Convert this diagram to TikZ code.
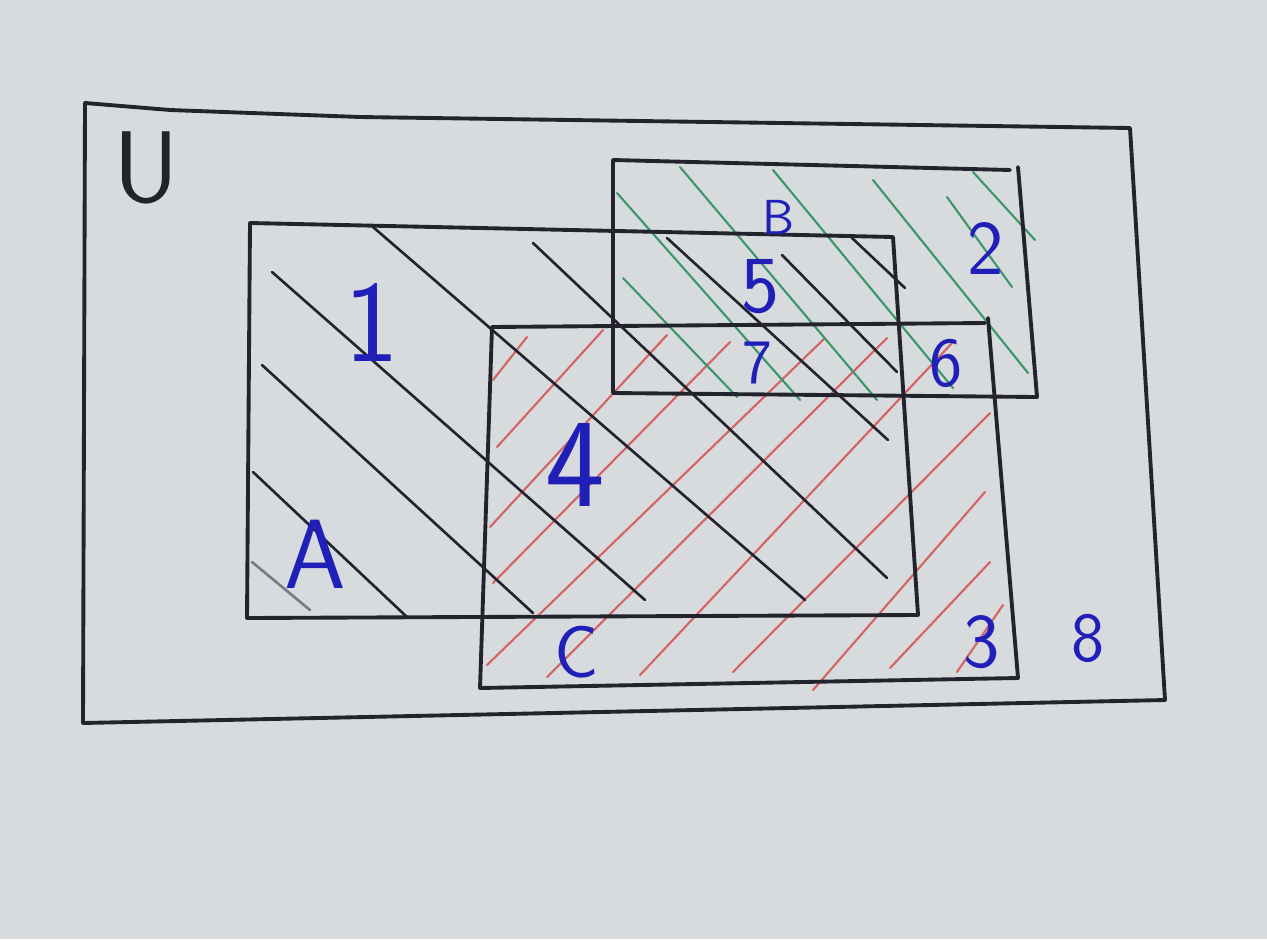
\documentclass[tikz,border=0pt]{standalone}
\usepackage{xcolor}
\usepackage{tikz}

\definecolor{paper}{RGB}{216,219,221}
\definecolor{ink}{RGB}{35,35,45}
\definecolor{pen}{RGB}{32,32,185}
\definecolor{redpen}{RGB}{212,100,100}
\definecolor{greenpen}{RGB}{60,150,108}

\begin{document}
\begin{tikzpicture}[
    x=0.01cm, y=-0.01cm,
    frame/.style={draw=ink, line width=1.1pt, line join=round, line cap=round},
    hatch/.style={draw=ink, line width=0.75pt, line cap=round},
    redhatch/.style={draw=redpen, line width=0.6pt, line cap=round},
    greenhatch/.style={draw=greenpen, line width=0.6pt, line cap=round},
    num/.style={text=pen, inner sep=0pt, font=\sffamily\fontsize{#1}{#1}\selectfont},
]
\fill[paper] (0,0) rectangle (1267,939);
\useasboundingbox (0,0) rectangle (1267,939);

% hatching
\foreach \xa/\ya/\xb/\yb in {493/380/527/337, 497/447/603/330, 490/527/667/335,
    493/583/730/342, 487/665/825/338, 547/677/887/338, 640/675/953/342,
    733/672/990/413, 813/690/985/492, 890/668/990/562, 957/672/1003/605}
  \draw[redhatch] (\xa,\ya) -- (\xb,\yb);
\foreach \xa/\ya/\xb/\yb in {623/278/737/397, 617/193/800/400, 680/167/877/400,
    773/170/953/388, 873/180/1028/373, 947/197/1012/287, 973/172/1035/240}
  \draw[greenhatch] (\xa,\ya) -- (\xb,\yb);
\foreach \xa/\ya/\xb/\yb in {253/472/407/617, 262/365/533/613, 272/272/645/600,
    373/227/805/600, 533/243/887/578, 667/238/888/440, 782/255/897/372,
    852/238/905/288}
  \draw[hatch] (\xa,\ya) -- (\xb,\yb);
\draw[hatch, draw=ink!60] (252,562) -- (310,610);

% sets
\draw[frame] (85,103) -- (170,110) -- (360,117) -- (1130,128) -- (1165,700) -- (83,723) -- cycle;
\draw[frame] (250,223) -- (893,237) -- (918,615) -- (247,618) -- cycle;
\draw[frame] (613,160) -- (1010,170);
\draw[frame] (1018,167) -- (1037,397) -- (613,393) -- (613,160);
\draw[frame] (492,327) -- (985,323);
\draw[frame] (988,318) -- (1018,678) -- (480,688) -- (492,327);

% labels
\node[num=29, text=ink] (lU) at (146,168) {U};
\node[num=28] (lA) at (315,554) {A};
\node[num=14] (lB) at (778,217) {B};
\node[num=21] (lC) at (577,652) {C};
\node[num=33] (n1) at (372,322) {1};
\node[num=22] (n2) at (986,248) {2};
\node[num=22] (n3) at (982,642) {3};
\node[num=36] (n4) at (575,465) {4};
\node[num=23] (n5) at (760,287) {5};
\node[num=20] (n6) at (946,363) {6};
\node[num=18] (n7) at (757,363) {7};
\node[num=20] (n8) at (1088,638) {8};
\end{tikzpicture}
\end{document}
